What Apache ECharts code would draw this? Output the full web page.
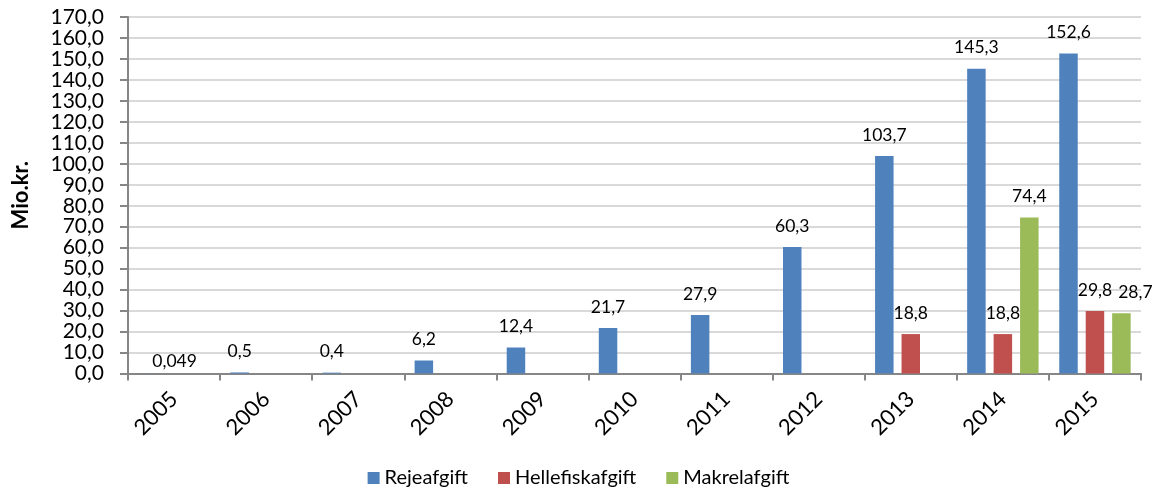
<!DOCTYPE html>
<html>
<head>
<meta charset="utf-8">
<script src="https://cdn.jsdelivr.net/npm/echarts@6/dist/echarts.min.js"></script>
<style>
  html, body { margin: 0; padding: 0; background: #fff; }
  #chart { width: 1157px; height: 496px; }
</style>
</head>
<body>
<div id="chart"></div>
<script>
var years = ['2005','2006','2007','2008','2009','2010','2011','2012','2013','2014','2015']
var reje = [0.049, 0.5, 0.4, 6.2, 12.4, 21.7, 27.9, 60.3, 103.7, 145.3, 152.6]
var helle = [null, null, null, null, null, null, null, null, 18.8, 18.8, 29.8]
var makrel = [null, null, null, null, null, null, null, null, null, 74.4, 28.7]

var font = 'Lato'

function comma(v) {
  return String(v).replace('.', ',')
}

// a few labels were nudged by hand in the original
function withOffsets(data, offsets) {
  return data.map(function (v, i) {
    var item = { value: v }
    if (offsets[i]) item.label = { offset: offsets[i] }
    return item
  })
}

function barSeries(name, data, color) {
  return {
    name: name,
    type: 'bar',
    data: data,
    barWidth: 18.5,
    barGap: '43%',
    itemStyle: { color: color },
    label: {
      show: true,
      position: 'top',
      distance: 12,
      color: '#000',
      fontFamily: font,
      fontSize: 17.5,
      formatter: function (p) { return comma(p.value) }
    }
  }
}

var option = {
  animation: false,
  textStyle: { fontFamily: font },
  grid: { left: 128, right: 16, top: 17, bottom: 122.5 },
  legend: {
    bottom: 3,
    left: 'center',
    itemWidth: 12,
    itemHeight: 12,
    itemGap: 30,
    icon: 'rect',
    textStyle: { fontFamily: font, fontSize: 20, color: '#000' },
    data: ['Rejeafgift', 'Hellefiskafgift', 'Makrelafgift']
  },
  xAxis: {
    type: 'category',
    data: years,
    axisLine: { lineStyle: { color: '#868686', width: 2 } },
    axisTick: { show: true, length: 7, lineStyle: { color: '#868686', width: 2 } },
    axisLabel: {
      rotate: 45,
      interval: 0,
      margin: 22,
      color: '#000',
      fontFamily: font,
      fontSize: 22
    }
  },
  yAxis: {
    type: 'value',
    min: 0,
    max: 170,
    interval: 10,
    name: 'Mio.kr.',
    nameLocation: 'middle',
    nameGap: 96,
    nameRotate: 90,
    nameTextStyle: { fontFamily: font, fontSize: 22, fontWeight: 'bold', color: '#000' },
    axisLine: { show: true, lineStyle: { color: '#868686', width: 2 } },
    axisTick: { show: true, length: 8, lineStyle: { color: '#868686', width: 2 } },
    splitLine: { lineStyle: { color: '#d9d9d9', width: 2 } },
    axisLabel: {
      color: '#000',
      fontFamily: font,
      fontSize: 21,
      margin: 24,
      formatter: function (v) { return v.toFixed(1).replace('.', ',') }
    }
  },
  series: [
    barSeries('Rejeafgift', withOffsets(reje, { 0: [27, 9] }), '#4f81bd'),
    barSeries('Hellefiskafgift', helle, '#c0504d'),
    barSeries('Makrelafgift', withOffsets(makrel, { 10: [14, 0] }), '#9bbb59')
  ]
}

var chart = echarts.init(document.getElementById('chart'))
chart.setOption(option)
</script>
</body>
</html>
